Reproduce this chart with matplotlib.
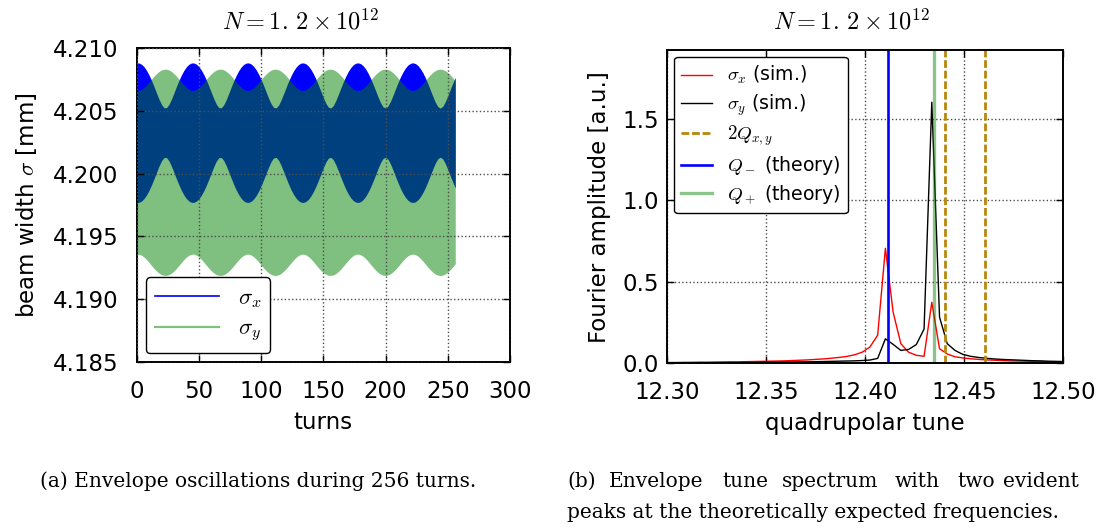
import numpy as np
import matplotlib
matplotlib.use("Agg")
import matplotlib.pyplot as plt
from matplotlib.lines import Line2D

# ---------------- data ----------------
# envelope of the beam widths, sampled every 2 turns (amplitude in micrometres)
turns = np.arange(0, 257, 2)
sigma_x_mean = 4.20325
sigma_y_mean = 4.2001
sigma_x_amp_um = [
    5.543, 5.532, 5.425, 5.223, 4.932, 4.562, 4.125, 3.639, 3.130, 2.636,
    2.222, 1.978, 1.991, 2.258, 2.684, 3.181, 3.688, 4.171, 4.602, 4.966,
    5.247, 5.439, 5.538, 5.538, 5.439, 5.247, 4.965, 4.602, 4.171, 3.688,
    3.181, 2.684, 2.258, 1.991, 1.978, 2.222, 2.636, 3.130, 3.639, 4.125,
    4.562, 4.932, 5.223, 5.425, 5.532, 5.543, 5.454, 5.271, 4.997, 4.641,
    4.218, 3.739, 3.232, 2.731, 2.294, 2.008, 1.967, 2.188, 2.589, 3.078,
    3.588, 4.078, 4.520, 4.899, 5.198, 5.408, 5.526, 5.545, 5.467, 5.294,
    5.028, 4.680, 4.262, 3.788, 3.284, 2.778, 2.332, 2.028, 1.960, 2.154,
    2.545, 3.027, 3.537, 4.031, 4.480, 4.864, 5.172, 5.392, 5.518, 5.548,
    5.479, 5.315, 5.059, 4.719, 4.306, 3.837, 3.335, 2.826, 2.372, 2.048,
    1.953, 2.126, 2.499, 2.977, 3.487, 3.984, 4.438, 4.829, 5.145, 5.375,
    5.510, 5.550, 5.491, 5.335, 5.088, 4.756, 4.352, 3.886, 3.385, 2.878,
    2.414, 2.071, 1.950, 2.097, 2.456, 2.929, 3.436, 3.934, 4.395,
]
sigma_y_amp_um = [
    6.506, 6.514, 6.597, 6.746, 6.946, 7.176, 7.417, 7.649, 7.854, 8.020,
    8.136, 8.194, 8.191, 8.127, 8.006, 7.835, 7.627, 7.393, 7.153, 6.924,
    6.729, 6.586, 6.510, 6.510, 6.586, 6.729, 6.924, 7.153, 7.393, 7.627,
    7.835, 8.006, 8.127, 8.191, 8.194, 8.136, 8.020, 7.854, 7.649, 7.417,
    7.176, 6.946, 6.746, 6.597, 6.514, 6.506, 6.575, 6.712, 6.903, 7.129,
    7.369, 7.604, 7.816, 7.991, 8.117, 8.187, 8.196, 8.144, 8.035, 7.874,
    7.671, 7.441, 7.200, 6.968, 6.764, 6.610, 6.519, 6.504, 6.565, 6.695,
    6.882, 7.105, 7.345, 7.582, 7.796, 7.976, 8.107, 8.183, 8.198, 8.153,
    8.048, 7.892, 7.693, 7.465, 7.224, 6.990, 6.782, 6.622, 6.525, 6.502,
    6.556, 6.679, 6.861, 7.081, 7.321, 7.559, 7.776, 7.960, 8.096, 8.178,
    8.199, 8.160, 8.061, 7.909, 7.714, 7.488, 7.248, 7.012, 6.802, 6.635,
    6.532, 6.500, 6.546, 6.664, 6.841, 7.058, 7.296, 7.535, 7.756, 7.943,
    8.085, 8.173, 8.200, 8.166, 8.073, 7.926, 7.735, 7.512, 7.272,
]

# Fourier spectrum of 256 turns: bins k = 76 ... 128, tune = 12 + k/256
fft_bins = np.arange(76, 129)
spec_x = [
    0.005, 0.005, 0.005, 0.006, 0.006, 0.007, 0.007, 0.008, 0.008, 0.009,
    0.009, 0.010, 0.011, 0.012, 0.013, 0.014, 0.015, 0.017, 0.019, 0.021,
    0.024, 0.027, 0.031, 0.036, 0.042, 0.052, 0.068, 0.100, 0.172, 0.705,
    0.313, 0.120, 0.068, 0.049, 0.043, 0.374, 0.089, 0.057, 0.040, 0.033,
    0.028, 0.024, 0.021, 0.019, 0.017, 0.015, 0.014, 0.013, 0.012, 0.011,
    0.010, 0.009, 0.008,
]
spec_y = [
    0.003, 0.003, 0.003, 0.003, 0.004, 0.004, 0.004, 0.004, 0.005, 0.005,
    0.005, 0.006, 0.006, 0.006, 0.007, 0.007, 0.008, 0.008, 0.009, 0.009,
    0.010, 0.011, 0.012, 0.013, 0.014, 0.015, 0.017, 0.020, 0.030, 0.150,
    0.116, 0.079, 0.085, 0.115, 0.210, 1.600, 0.283, 0.120, 0.079, 0.055,
    0.043, 0.036, 0.031, 0.027, 0.024, 0.022, 0.020, 0.018, 0.016, 0.015,
    0.013, 0.012, 0.011,
]
q_minus = 12.4115
q_plus = 12.4345
two_q = [12.4404, 12.4604]

# ---------------- style ----------------
plt.rcParams.update({
    "font.family": ["DejaVu Sans"],
    "mathtext.fontset": "cm",
    "xtick.direction": "in",
    "ytick.direction": "in",
    "xtick.top": True,
    "ytick.right": True,
    "xtick.major.size": 5,
    "ytick.major.size": 5,
    "xtick.major.width": 1.0,
    "ytick.major.width": 1.0,
    "axes.linewidth": 1.4,
    "font.size": 16.5,
})

fig = plt.figure(figsize=(11.07, 5.32), dpi=100)
ax1 = fig.add_axes([0.1235, 0.3190, 0.3372, 0.5913])
ax2 = fig.add_axes([0.6028, 0.3171, 0.3577, 0.5889])

grid_kw = dict(color="0.3", linestyle=":", linewidth=1.0)

# ---------------- left: envelope oscillations ----------------
amp_x = np.array(sigma_x_amp_um) * 1e-3
amp_y = np.array(sigma_y_amp_um) * 1e-3
ax1.fill_between(turns, sigma_x_mean - amp_x, sigma_x_mean + amp_x,
                 color="b", linewidth=0)
ax1.fill_between(turns, sigma_y_mean - amp_y, sigma_y_mean + amp_y,
                 color="g", alpha=0.5, linewidth=0)
ax1.set_xlim(0, 300)
ax1.set_ylim(4.185, 4.210)
ax1.set_xticks(np.arange(0, 301, 50))
ax1.set_yticks(np.arange(4.185, 4.2101, 0.005))
ax1.yaxis.set_major_formatter(matplotlib.ticker.FormatStrFormatter("%.3f"))
ax1.tick_params(axis="both", labelsize=16.5, pad=13)
ax1.grid(True, **grid_kw)
ax1.set_axisbelow(False)
ax1.set_xlabel("turns", fontsize=16.5)
ax1.set_ylabel(r"beam width $\sigma$ [mm]", fontsize=16.5)
ax1.xaxis.set_label_coords(0.5, -0.155)
ax1.yaxis.set_label_coords(-0.262, 0.5)
handles1 = [Line2D([], [], color="b", lw=1.2),
            Line2D([], [], color="g", alpha=0.5, lw=1.6)]
leg1 = ax1.legend(handles1, [r"$\sigma_x$", r"$\sigma_y$"], loc="lower left",
                  fontsize=16.5, handlelength=2.8, borderaxespad=0.4,
                  labelspacing=0.3, fancybox=True, framealpha=1)
leg1.get_frame().set_edgecolor("k")
leg1.get_frame().set_linewidth(1.0)

# ---------------- right: tune spectrum ----------------
tune = 12 + fft_bins / 256
ax2.plot(tune, spec_x, color="r", lw=1.0, label=r"$\sigma_x$ (sim.)")
ax2.plot(tune, spec_y, color="k", lw=1.0, label=r"$\sigma_y$ (sim.)")
for i, q in enumerate(two_q):
    ax2.axvline(q, color="#b8860b", lw=2.0, dashes=(2.8, 1.0),
                label=r"$2Q_{x,y}$" if i == 0 else None)
ax2.axvline(q_minus, color="b", lw=1.9, label=r"$Q_-$ (theory)")
ax2.axvline(q_plus, color="g", alpha=0.45, lw=2.4, label=r"$Q_+$ (theory)")
ax2.set_xlim(12.30, 12.50)
ax2.set_ylim(0, 1.92)
ax2.set_xticks(np.arange(12.30, 12.501, 0.05))
ax2.set_yticks([0.0, 0.5, 1.0, 1.5])
ax2.xaxis.set_major_formatter(matplotlib.ticker.FormatStrFormatter("%.2f"))
ax2.yaxis.set_major_formatter(matplotlib.ticker.FormatStrFormatter("%.1f"))
ax2.tick_params(axis="x", labelsize=16.5, pad=13)
ax2.tick_params(axis="y", labelsize=16.5, pad=6)
ax2.grid(True, **grid_kw)
ax2.set_xlabel("quadrupolar tune", fontsize=16.5)
ax2.set_ylabel("Fourier amplitude [a.u.]", fontsize=16.5)
ax2.xaxis.set_label_coords(0.5, -0.157)
ax2.yaxis.set_label_coords(-0.143, 0.5)
leg2 = ax2.legend(loc="upper left", fontsize=13.6, handlelength=1.6,
                  borderaxespad=0.35, labelspacing=0.32, fancybox=True,
                  framealpha=1)
leg2.get_frame().set_edgecolor("k")
leg2.get_frame().set_linewidth(1.0)

# ---------------- titles ----------------
title = r"$N = 1.\,2 \times 10^{12}$"
fig.text(300 / 1107, 1 - 22 / 532, title, ha="center", va="center", fontsize=17.5)
fig.text(851 / 1107, 1 - 22 / 532, title, ha="center", va="center", fontsize=17.5)

# ---------------- captions ----------------
cap_kw = dict(family="DejaVu Serif", fontsize=14.5, va="baseline", ha="left")
fig.text(40 / 1107, 1 - 487 / 532,
         "(a) Envelope oscillations during 256 turns.", **cap_kw)
words_b = ["(b)", "Envelope", "tune", "spectrum", "with", "two", "evident"]
words_x = [567, 609, 722, 782, 895, 957, 1003]
for w, x in zip(words_b, words_x):
    fig.text(x / 1107, 1 - 487 / 532, w, **cap_kw)
fig.text(567 / 1107, 1 - 518 / 532,
         "peaks at the theoretically expected frequencies.", **cap_kw)

fig.savefig("out.png", dpi=100)
